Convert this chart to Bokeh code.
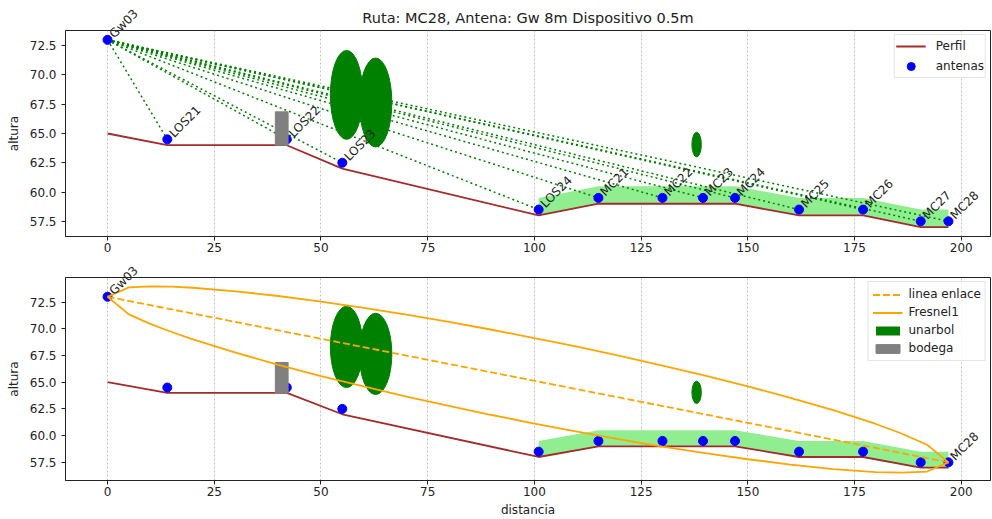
from bokeh.plotting import figure
from bokeh.layouts import column
from bokeh.document import Document
from bokeh.models import (Label, Legend, LegendItem, FixedTicker, Range1d,
                          PrintfTickFormatter, CustomJS)
from bokeh.embed import file_html
from bokeh.resources import INLINE

FONT = "DejaVu Sans"
TXT = "#222222"

# terrain profile along the route
perfil_x = [0, 14, 42, 55, 101, 115, 147, 162, 177, 190.5, 197]
perfil_y = [65, 64, 64, 62, 58, 59, 59, 58, 58, 57, 57]

# antennas (gateway first)
ant_names = ["Gw03", "LOS21", "LOS22", "LOS23", "LOS24", "MC21", "MC22",
             "MC23", "MC24", "MC25", "MC26", "MC27", "MC28"]
ant_x = [0, 14, 42, 55, 101, 115, 130, 139.5, 147, 162, 177, 190.5, 197]
ant_y = [73, 64.5, 64.5, 62.5, 58.5, 59.5, 59.5, 59.5, 59.5, 58.5, 58.5, 57.5, 57.5]

# vegetation strip over the second half of the route
zona_x = [101, 115, 147, 162, 177, 190.5, 197]
zona_base = [58, 59, 59, 58, 58, 57, 57]
zona_top = [59.5, 60.5, 60.5, 59.5, 59.5, 58.5, 58.5]

# trees (ellipses) and the warehouse
arbol_x = [56, 62.8, 138]
arbol_y = [68.3, 67.65, 64.05]
arbol_w = [7.6, 7.6, 2.2]
arbol_h = [7.6, 7.6, 2.1]
bodega_left = [39.3]
bodega_right = [42.3]
bodega_bottom = [64]
bodega_top = [66.85]

# link Gw03 -> MC28 and its first Fresnel zone
enlace_x = [0, 197]
enlace_y = [73, 57.5]
fresnel_x = [0, 5, 10, 15, 20, 30, 40, 50, 60, 70, 80, 90, 100, 110, 120,
             130, 140, 150, 160, 170, 180, 186, 192, 197]
fresnel_sup = [73.0, 73.87, 73.97, 73.94, 73.84, 73.51, 73.07, 72.55, 71.96,
               71.32, 70.64, 69.91, 69.13, 68.32, 67.46, 66.56, 65.61, 64.61,
               63.54, 62.38, 61.09, 60.20, 59.15, 57.5]
fresnel_inf = [73.0, 71.35, 70.46, 69.70, 69.01, 67.76, 66.63, 65.58, 64.60,
               63.66, 62.78, 61.93, 61.13, 60.37, 59.65, 58.98, 58.36, 57.79,
               57.29, 56.87, 56.59, 56.53, 56.64, 57.5]

x_ticks = [0, 25, 50, 75, 100, 125, 150, 175, 200]
y_ticks = [57.5, 60.0, 62.5, 65.0, 67.5, 70.0, 72.5]


def style(p, xlabel=None):
    p.xaxis.ticker = FixedTicker(ticks=x_ticks)
    p.yaxis.ticker = FixedTicker(ticks=y_ticks)
    p.yaxis.formatter = PrintfTickFormatter(format="%.1f")
    p.xgrid.grid_line_color = "#c4c4c4"
    p.xgrid.grid_line_dash = "2 2"
    p.xgrid.grid_line_width = 1
    p.ygrid.visible = False
    p.outline_line_color = TXT
    p.outline_line_width = 1
    p.outline_line_alpha = 1
    for ax in (p.xaxis[0], p.yaxis[0]):
        ax.axis_line_color = TXT
        ax.major_tick_line_color = TXT
        ax.major_tick_out = 4
        ax.major_tick_in = 0
        ax.minor_tick_line_color = None
        ax.major_label_text_font = FONT
        ax.major_label_text_font_size = "12px"
        ax.major_label_text_color = TXT
        ax.axis_label_text_font = FONT
        ax.axis_label_text_font_size = "12px"
        ax.axis_label_text_font_style = "normal"
        ax.axis_label_text_color = TXT
    p.xaxis.major_label_standoff = 2
    p.yaxis.major_label_standoff = 5
    p.yaxis.axis_label = "altura"
    p.yaxis.axis_label_standoff = 6
    if xlabel:
        p.xaxis.axis_label = xlabel
        p.xaxis.axis_label_standoff = 4


def legend_style(leg):
    leg.location = "top_right"
    leg.label_text_font = FONT
    leg.label_text_font_size = "12px"
    leg.label_text_color = TXT
    leg.border_line_color = "#cccccc"
    leg.background_fill_alpha = 0.8
    leg.margin = 4
    leg.glyph_width = 30


def add_names(p, idx):
    for i in idx:
        p.add_layout(Label(x=ant_x[i], y=ant_y[i], text=ant_names[i],
                           angle=45, angle_units="deg", x_offset=4, y_offset=4,
                           text_baseline="alphabetic", text_font=FONT,
                           text_font_size="12px", text_color=TXT))


# ---------------- top: line of sight from the gateway ----------------
p1 = figure(width=992, height=256, output_backend="svg", toolbar_location=None,
            x_range=Range1d(-9.85, 206.85), y_range=Range1d(56.2, 73.8),
            min_border_left=65, min_border_right=2, min_border_top=30,
            min_border_bottom=20,
            title="Ruta: MC28, Antena: Gw 8m Dispositivo 0.5m")
p1.title.align = "center"
p1.title.text_font = FONT
p1.title.text_font_size = "14.5px"
p1.title.text_font_style = "normal"
p1.title.text_color = TXT
style(p1)

p1.varea(x=zona_x, y1=zona_base, y2=zona_top, fill_color="#90ee90")
r_perfil = p1.line(perfil_x, perfil_y, line_color="brown", line_width=1.8)
n = len(ant_x) - 1
p1.segment(x0=[ant_x[0]] * n, y0=[ant_y[0]] * n, x1=ant_x[1:], y1=ant_y[1:],
           line_color="green", line_width=1.5, line_dash="2 3")
r_ant = p1.scatter(ant_x, ant_y, size=9, fill_color="blue", line_color="blue")
p1.ellipse(x=arbol_x, y=arbol_y, width=arbol_w, height=arbol_h,
           fill_color="green", line_color="green")
p1.quad(left=bodega_left, right=bodega_right, bottom=bodega_bottom, top=bodega_top,
        fill_color="gray", line_color="gray")
add_names(p1, range(len(ant_names)))
leg1 = Legend(items=[LegendItem(label="Perfil", renderers=[r_perfil]),
                     LegendItem(label="antenas", renderers=[r_ant])])
legend_style(leg1)
leg1.padding = 1
leg1.spacing = 0
leg1.glyph_height = 20
leg1.label_height = 16
leg1.label_standoff = 10
p1.add_layout(leg1)

# ---------------- bottom: link line and Fresnel zone ----------------
p2 = figure(width=992, height=263, output_backend="svg", toolbar_location=None,
            x_range=Range1d(-9.85, 206.85), y_range=Range1d(55.8, 74.8),
            min_border_left=65, min_border_right=2, min_border_top=21,
            min_border_bottom=38)
style(p2, "distancia")

p2.varea(x=zona_x, y1=zona_base, y2=zona_top, fill_color="#90ee90")
p2.line(perfil_x, perfil_y, line_color="brown", line_width=1.8)
p2.scatter(ant_x, ant_y, size=9, fill_color="blue", line_color="blue")
p2.ellipse(x=arbol_x, y=arbol_y, width=arbol_w, height=arbol_h,
           fill_color="green", line_color="green")
r_bodega = p2.quad(left=bodega_left, right=bodega_right, bottom=bodega_bottom,
                   top=bodega_top, fill_color="gray", line_color="gray")
r_enlace = p2.line(enlace_x, enlace_y, line_color="orange", line_width=1.8,
                   line_dash="7 3")
r_fresnel = p2.line(fresnel_x + fresnel_x[::-1], fresnel_sup + fresnel_inf[::-1],
                    line_color="orange", line_width=1.8)
# rectangular swatch for the trees in the legend (nothing drawn in the plot)
nan = float("nan")
r_arbol_sw = p2.quad(left=[nan], right=[nan], bottom=[nan], top=[nan],
                     fill_color="green", line_color=None)
add_names(p2, [0, len(ant_names) - 1])
leg2 = Legend(items=[LegendItem(label="linea enlace", renderers=[r_enlace]),
                     LegendItem(label="Fresnel1", renderers=[r_fresnel]),
                     LegendItem(label="unarbol", renderers=[r_arbol_sw]),
                     LegendItem(label="bodega", renderers=[r_bodega])])
legend_style(leg2)
leg2.padding = 4
leg2.spacing = 2
leg2.glyph_height = 11
leg2.label_height = 16
leg2.label_standoff = 6
p2.add_layout(leg2)

layout = column(p1, p2, spacing=0)

# let the rotated antenna names run past the plot frame (e.g. "Gw03")
unclip = CustomJS(code="""
const css = 'g[clip-path] { clip-path: none !important; }';
function walk(root) {
  for (const el of root.querySelectorAll('*')) {
    if (el.shadowRoot) {
      if (!el.shadowRoot.querySelector('style[data-unclip]')) {
        const s = document.createElement('style');
        s.setAttribute('data-unclip', '1');
        s.textContent = css;
        el.shadowRoot.appendChild(s);
      }
      walk(el.shadowRoot);
    }
  }
}
walk(document);
setTimeout(() => walk(document), 50);
setTimeout(() => walk(document), 300);
""")

doc = Document()
doc.add_root(layout)
doc.js_on_event("document_ready", unclip)
open("out.html", "w").write(file_html(doc, INLINE))
